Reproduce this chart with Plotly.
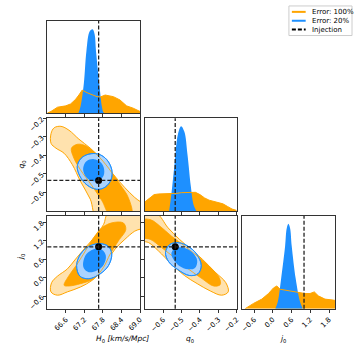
import plotly.graph_objects as go

# injected (true) values
inj_H0 = 67.66
inj_q0 = -0.535
inj_j0 = 1.0

# axis ranges / ticks
H0_range = [66.0, 69.0]
q0_range = [-0.7, -0.2]
j0_range = [-1.0, 2.0]
H0_ticks = [66.6, 67.2, 67.8, 68.4, 69.0]
q0_ticks = [-0.6, -0.5, -0.4, -0.3, -0.2]
j0_ticks = [-0.6, 0.0, 0.6, 1.2, 1.8]

legend_names = ['Error: 100%', 'Error: 20%', 'Injection']

# 1D marginals (relative density)
H0_orange_x = [66.0, 66.117, 66.33, 66.596, 66.755, 66.915, 67.021, 67.128, 67.287, 67.606, 67.713, 67.872, 68.138, 68.351, 68.564, 68.777, 69.0]
H0_orange_y = [1, 6, 19, 23, 29, 43, 56, 71, 63, 51, 50, 56, 51, 41, 23, 16, 6]
H0_blue_x = [67.0, 67.074, 67.181, 67.266, 67.372, 67.468, 67.532, 67.574, 67.681, 67.766, 67.819, 67.89]
H0_blue_y = [0, 21, 91, 191, 250, 256, 240, 191, 91, 21, 3, 0]

q0_orange_x = [-0.7, -0.675, -0.65, -0.625, -0.6, -0.575, -0.55, -0.525, -0.5, -0.475, -0.45, -0.425, -0.4, -0.375, -0.35, -0.325, -0.3, -0.275, -0.25, -0.225, -0.2]
q0_orange_y = [28, 38, 50, 52, 52, 52, 53, 54, 56, 57, 58, 57, 50, 40, 33, 29, 27, 22, 14, 6, 2]
q0_blue_x = [-0.568, -0.556, -0.539, -0.521, -0.503, -0.485, -0.468, -0.45, -0.436, -0.42]
q0_blue_y = [0, 51, 141, 231, 258, 241, 171, 76, 21, 0]

j0_orange_x = [-0.883, -0.617, -0.351, -0.138, 0.021, 0.128, 0.234, 0.5, 0.872, 1.032, 1.191, 1.33, 1.457, 1.67, 1.936, 2.0]
j0_orange_y = [0, 16, 29, 46, 63, 69, 59, 54, 49, 46, 46, 51, 39, 29, 26, 25]
j0_blue_x = [0.08, 0.16, 0.266, 0.394, 0.447, 0.5, 0.553, 0.606, 0.734, 0.872, 0.96]
j0_blue_y = [0, 21, 91, 191, 245, 258, 245, 191, 91, 21, 0]

# 2D credible regions, outlines
# H0 - q0
hq_o90_H0 = [66.12, 66.22, 66.44, 66.70, 67.02, 67.39, 67.77, 68.14, 68.51, 68.83, 69.2, 69.2, 67.64, 67.39, 67.07, 66.81, 66.54, 66.28, 66.12]
hq_o90_q0 = [-0.282, -0.251, -0.243, -0.264, -0.312, -0.361, -0.423, -0.503, -0.574, -0.627, -0.68, -0.75, -0.75, -0.636, -0.539, -0.45, -0.388, -0.361, -0.335]
hq_o68_H0 = [66.78, 66.97, 67.23, 67.61, 67.98, 68.35, 68.62, 68.72, 68.03, 67.77, 67.45, 67.07, 66.86]
hq_o68_q0 = [-0.361, -0.34, -0.347, -0.397, -0.468, -0.556, -0.627, -0.72, -0.72, -0.645, -0.565, -0.477, -0.415]
hq_b90_H0 = [66.968, 67.096, 67.34, 67.66, 67.926, 68.085, 68.064, 67.872, 67.606, 67.287, 67.053]
hq_b90_q0 = [-0.459, -0.415, -0.393, -0.393, -0.423, -0.477, -0.53, -0.571, -0.583, -0.56, -0.512]
hq_b68_H0 = [67.16, 67.266, 67.5, 67.734, 67.84, 67.798, 67.606, 67.34, 67.202]
hq_b68_q0 = [-0.468, -0.432, -0.42, -0.438, -0.477, -0.517, -0.539, -0.53, -0.503]

# H0 - j0
hj_o90_H0 = [66.117, 66.138, 66.33, 66.649, 66.915, 67.234, 67.553, 67.819, 67.979, 69.2, 69.2, 68.83, 68.51, 68.19, 67.979, 67.766, 67.447, 67.074, 66.649, 66.33]
hj_o90_j0 = [-0.457, -0.16, 0.053, 0.287, 0.606, 0.979, 1.351, 1.723, 2.1, 2.1, 1.67, 1.51, 1.245, 0.926, 0.606, 0.234, -0.085, -0.298, -0.457, -0.564]
hj_o68_H0 = [66.543, 66.702, 66.968, 67.234, 67.5, 67.766, 68.085, 68.457, 68.54, 68.298, 68.032, 67.819, 67.5, 67.074, 66.702]
hj_o68_j0 = [-0.245, 0.074, 0.447, 0.872, 1.298, 1.617, 1.777, 1.777, 1.564, 1.191, 0.766, 0.34, -0.032, -0.191, -0.266]
hj_b90_H0 = [66.947, 67.074, 67.34, 67.691, 67.979, 68.085, 67.979, 67.713, 67.34, 67.053]
hj_b90_j0 = [0.394, 0.766, 1.011, 1.106, 1.011, 0.766, 0.394, 0.128, -0.032, 0.053]
hj_b68_H0 = [67.16, 67.266, 67.5, 67.766, 67.894, 67.819, 67.606, 67.34, 67.181]
hj_b68_j0 = [0.5, 0.766, 0.926, 0.904, 0.713, 0.415, 0.234, 0.181, 0.309]

# q0 - j0
qj_o90_q0 = [-0.75, -0.75, -0.64, -0.574, -0.512, -0.45, -0.388, -0.317, -0.259, -0.246, -0.282, -0.344, -0.415, -0.485, -0.556, -0.627, -0.68]
qj_o90_j0 = [1.245, 2.1, 2.1, 1.617, 1.245, 0.926, 0.606, 0.181, -0.16, -0.457, -0.564, -0.426, -0.191, 0.074, 0.447, 0.872, 1.138]
qj_o68_q0 = [-0.75, -0.672, -0.618, -0.556, -0.485, -0.406, -0.344, -0.294, -0.29, -0.326, -0.388, -0.459, -0.53, -0.61, -0.672, -0.75]
qj_o68_j0 = [1.83, 1.883, 1.67, 1.351, 1.032, 0.66, 0.34, -0.011, -0.223, -0.266, -0.032, 0.266, 0.606, 0.979, 1.245, 1.33]
qj_b90_q0 = [-0.588, -0.565, -0.521, -0.468, -0.418, -0.393, -0.411, -0.459, -0.521, -0.571]
qj_b90_j0 = [0.819, 1.074, 1.138, 1.032, 0.766, 0.394, 0.128, 0.074, 0.266, 0.521]
qj_b68_q0 = [-0.556, -0.539, -0.494, -0.441, -0.415, -0.429, -0.477, -0.525]
qj_b68_j0 = [0.766, 0.947, 0.979, 0.819, 0.553, 0.309, 0.287, 0.447]

ORANGE = '#FFA500'
ORANGE_L = '#FFE2AE'
BLUE = '#1E90FF'
BLUE_L = '#AAD3FF'
FONT = 'DejaVu Sans'
W = 357.0

fig = go.Figure()


def closed(xs, ys):
    return list(xs) + [xs[0]], list(ys) + [ys[0]]


def region(xs, ys, ax, fill, line=None):
    cx, cy = closed(xs, ys)
    fig.add_trace(go.Scatter(x=cx, y=cy, xaxis=ax[0], yaxis=ax[1], mode='lines',
                             line=dict(color=line or fill, width=1 if line else 0, shape='spline'),
                             fill='toself', fillcolor=fill, hoverinfo='skip'))


def outline(xs, ys, ax, color):
    cx, cy = closed(xs, ys)
    fig.add_trace(go.Scatter(x=cx, y=cy, xaxis=ax[0], yaxis=ax[1], mode='lines',
                             line=dict(color=color, width=0.8, shape='spline'), hoverinfo='skip'))


def panel2d(ax, o90, o68, b90, b68, px, py):
    region(*o90, ax, ORANGE_L, ORANGE)
    region(*o68, ax, ORANGE)
    region(*b90, ax, BLUE_L, BLUE)
    outline(*o68, ax, ORANGE)
    region(*b68, ax, BLUE)
    outline(*b90, ax, BLUE)
    fig.add_trace(go.Scatter(x=[px], y=[py], xaxis=ax[0], yaxis=ax[1], mode='markers',
                             marker=dict(color='black', size=7), hoverinfo='skip'))


def panel1d(ax, ox, oy, bx, by):
    fig.add_trace(go.Scatter(x=ox, y=oy, xaxis=ax[0], yaxis=ax[1], mode='lines',
                             line=dict(width=0), fill='tozeroy', fillcolor=ORANGE, hoverinfo='skip'))
    fig.add_trace(go.Scatter(x=bx, y=by, xaxis=ax[0], yaxis=ax[1], mode='lines',
                             line=dict(width=0, shape='spline'), fill='tozeroy', fillcolor=BLUE,
                             hoverinfo='skip'))
    fig.add_trace(go.Scatter(x=ox, y=oy, xaxis=ax[0], yaxis=ax[1], mode='lines',
                             line=dict(width=1, color=ORANGE), hoverinfo='skip'))


panel1d(('x', 'y'), H0_orange_x, H0_orange_y, H0_blue_x, H0_blue_y)
panel2d(('x2', 'y2'), (hq_o90_H0, hq_o90_q0), (hq_o68_H0, hq_o68_q0),
        (hq_b90_H0, hq_b90_q0), (hq_b68_H0, hq_b68_q0), inj_H0, inj_q0)
panel2d(('x3', 'y3'), (hj_o90_H0, hj_o90_j0), (hj_o68_H0, hj_o68_j0),
        (hj_b90_H0, hj_b90_j0), (hj_b68_H0, hj_b68_j0), inj_H0, inj_j0)
panel1d(('x4', 'y4'), q0_orange_x, q0_orange_y, q0_blue_x, q0_blue_y)
panel2d(('x5', 'y5'), (qj_o90_q0, qj_o90_j0), (qj_o68_q0, qj_o68_j0),
        (qj_b90_q0, qj_b90_j0), (qj_b68_q0, qj_b68_j0), inj_q0, inj_j0)
panel1d(('x6', 'y6'), j0_orange_x, j0_orange_y, j0_blue_x, j0_blue_y)

# injection lines
DASH = dict(color='#222222', width=1.3, dash='4px,2px')
vlines = [('x', inj_H0), ('x2', inj_H0), ('x3', inj_H0), ('x4', inj_q0), ('x5', inj_q0), ('x6', inj_j0)]
for xa, v in vlines:
    ya = 'y' + xa[1:]
    fig.add_shape(type='line', xref=xa, yref=ya + ' domain', x0=v, x1=v, y0=0, y1=1, line=DASH)
for xa, ya, v in [('x2', 'y2', inj_q0), ('x3', 'y3', inj_j0), ('x5', 'y5', inj_j0)]:
    fig.add_shape(type='line', xref=xa + ' domain', yref=ya, x0=0, x1=1, y0=v, y1=v, line=DASH)

cols = [(47 / W, 141 / W), (146 / W, 239 / W), (244 / W, 339 / W)]
rows = [(1 - 112 / W, 1 - 18 / W), (1 - 211 / W, 1 - 117 / W), (1 - 310 / W, 1 - 216 / W)]

base = dict(showgrid=False, zeroline=False, showline=True, mirror=True, linecolor='#333333',
            linewidth=1, ticks='outside', ticklen=3, tickwidth=1, tickcolor='#333333',
            tickangle=-45, tickformat='.1f', tickfont=dict(size=7, family=FONT, color='black'))

# (xaxis, yaxis, col, row, xrange, xticks, yrange, yticks, xlabels, ylabels)
spec = [
    ('xaxis', 'yaxis', 0, 0, H0_range, H0_ticks, [0, 282], None, False, False),
    ('xaxis2', 'yaxis2', 0, 1, H0_range, H0_ticks, q0_range, q0_ticks, False, True),
    ('xaxis3', 'yaxis3', 0, 2, H0_range, H0_ticks, j0_range, j0_ticks, True, True),
    ('xaxis4', 'yaxis4', 1, 1, q0_range, q0_ticks, [0, 282], None, False, False),
    ('xaxis5', 'yaxis5', 1, 2, q0_range, q0_ticks, j0_range, j0_ticks, True, False),
    ('xaxis6', 'yaxis6', 2, 2, j0_range, j0_ticks, [0, 282], None, True, False),
]
layout_axes = {}
for xa, ya, c, r, xr, xt, yr, yt, xl, yl in spec:
    xn = xa[5:]
    yn = ya[5:]
    layout_axes[xa] = dict(base, domain=cols[c], range=xr, tickvals=xt, showticklabels=xl,
                           anchor='y' + yn)
    yax = dict(base, domain=rows[r], range=yr, anchor='x' + xn, showticklabels=yl)
    if yt is None:
        yax.update(ticks='', showticklabels=False)
    else:
        yax.update(tickvals=yt)
    layout_axes[ya] = yax

fig.update_layout(**layout_axes)

txt = dict(xref='paper', yref='paper', showarrow=False, font=dict(size=7.5, family=FONT, color='black'))
fig.add_annotation(text='<i>H</i><sub>0</sub> <i>[km/s/Mpc]</i>', x=94 / W, y=1 - 341 / W,
                   yanchor='middle', **txt)
fig.add_annotation(text='<i>q</i><sub>0</sub>', x=192 / W, y=1 - 341 / W, yanchor='middle', **txt)
fig.add_annotation(text='<i>j</i><sub>0</sub>', x=291 / W, y=1 - 341 / W, yanchor='middle', **txt)
fig.add_annotation(text='<i>q</i><sub>0</sub>', x=14 / W, y=1 - 164 / W, textangle=-90, **txt)
fig.add_annotation(text='<i>j</i><sub>0</sub>', x=14 / W, y=1 - 263 / W, textangle=-90, **txt)

# legend drawn by hand (plotly's own legend rows are too tall for this size)
fig.add_shape(type='rect', xref='paper', yref='paper', x0=292 / W, x1=356 / W,
              y0=1 - 33 / W, y1=1 - 3 / W, line=dict(color='#cccccc', width=1), fillcolor='white')
leg_styles = [dict(color=ORANGE, width=2), dict(color=BLUE, width=2),
              dict(color='black', width=2, dash='4px,2px')]
for i, (name, st) in enumerate(zip(legend_names, leg_styles)):
    yy = 1 - (9 + 9 * i) / W
    fig.add_shape(type='line', xref='paper', yref='paper', x0=295 / W, x1=309 / W,
                  y0=yy, y1=yy, line=st)
    fig.add_annotation(text=name, x=313 / W, y=yy, xanchor='left', yanchor='middle',
                       xref='paper', yref='paper', showarrow=False,
                       font=dict(size=7, family=FONT, color='black'))

fig.update_layout(
    width=357, height=357, margin=dict(l=0, r=0, t=0, b=0),
    paper_bgcolor='white', plot_bgcolor='white', showlegend=False,
    font=dict(family=FONT, size=7, color='black'),
)

fig.write_html("out.html", config={'displayModeBar': False},
               post_script="document.body.style.margin='0';")
